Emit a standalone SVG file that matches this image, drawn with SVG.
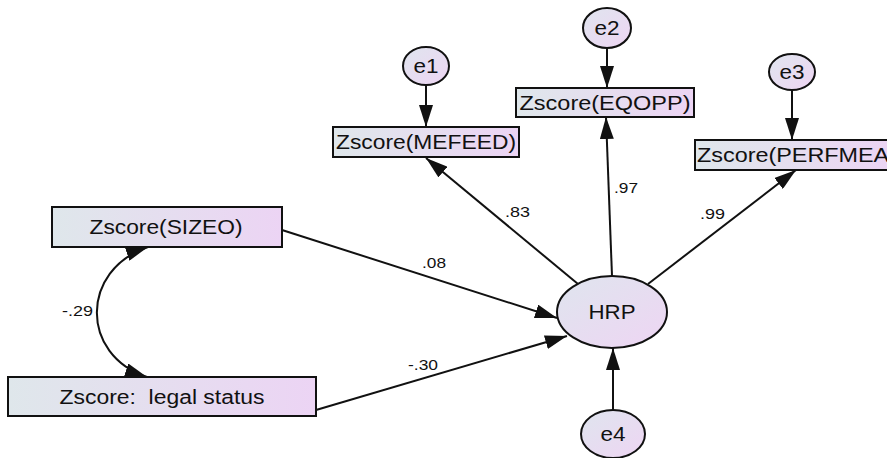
<svg xmlns="http://www.w3.org/2000/svg" width="887" height="458" viewBox="0 0 887 458">
<style>
.box{fill:url(#gb);stroke:#111;stroke-width:2}
.ell{fill:url(#ge);stroke:#111;stroke-width:2}
.t{font-family:"Liberation Sans",Arial,sans-serif;font-size:20px;fill:#111;text-anchor:middle}
.lb{font-family:"Liberation Sans",Arial,sans-serif;font-size:15px;fill:#111}
.c{fill:none;stroke:#111;stroke-width:2}
</style>
<defs>
<linearGradient id="gb" x1="0" y1="0" x2="1" y2="0">
<stop offset="0" stop-color="#dfe7eb"/>
<stop offset="1" stop-color="#ecd4f4"/>
</linearGradient>
<linearGradient id="ge" x1="0" y1="0" x2="1" y2="1">
<stop offset="0" stop-color="#dfe5ee"/>
<stop offset="1" stop-color="#eed5f3"/>
</linearGradient>
<marker id="ah" viewBox="0 0 22 14" refX="22" refY="7" markerWidth="22" markerHeight="14" orient="auto-start-reverse" markerUnits="userSpaceOnUse">
<path d="M0,0 L22,7 L0,14 Z" fill="#111"/>
</marker>
</defs>

<g id="connectors">
<line class="c" x1="426" y1="85" x2="426" y2="127" marker-end="url(#ah)"/>
<line class="c" x1="607" y1="48" x2="607" y2="88" marker-end="url(#ah)"/>
<line class="c" x1="792" y1="90" x2="792" y2="140" marker-end="url(#ah)"/>
<line class="c" x1="578" y1="284" x2="426" y2="158" marker-end="url(#ah)"/>
<line class="c" x1="612" y1="276" x2="606" y2="117" marker-end="url(#ah)"/>
<line class="c" x1="648" y1="284" x2="796" y2="170" marker-end="url(#ah)"/>
<line class="c" x1="282" y1="230" x2="557" y2="318" marker-end="url(#ah)"/>
<line class="c" x1="316" y1="410" x2="567" y2="336" marker-end="url(#ah)"/>
<line class="c" x1="613" y1="410" x2="613" y2="348" marker-end="url(#ah)"/>
<path class="c" d="M148,247 C80,270 80,355 147,377" marker-start="url(#ah)" marker-end="url(#ah)"/>
<text class="lb" x="505" y="217" textLength="25" lengthAdjust="spacingAndGlyphs">.83</text>
<text class="lb" x="614" y="193" textLength="24" lengthAdjust="spacingAndGlyphs">.97</text>
<text class="lb" x="700" y="219" textLength="25" lengthAdjust="spacingAndGlyphs">.99</text>
<text class="lb" x="422" y="268" textLength="24" lengthAdjust="spacingAndGlyphs">.08</text>
<text class="lb" x="408" y="370" textLength="30" lengthAdjust="spacingAndGlyphs">-.30</text>
<text class="lb" x="62" y="316" textLength="31" lengthAdjust="spacingAndGlyphs">-.29</text>
</g>

<g id="e1">
<ellipse class="ell" cx="426" cy="66" rx="23" ry="19"/>
<text class="t" x="426" y="73" textLength="25" lengthAdjust="spacingAndGlyphs">e1</text>
</g>
<g id="e2">
<ellipse class="ell" cx="607" cy="28" rx="24" ry="20"/>
<text class="t" x="607" y="35" textLength="25" lengthAdjust="spacingAndGlyphs">e2</text>
</g>
<g id="e3">
<ellipse class="ell" cx="792" cy="72" rx="23" ry="18"/>
<text class="t" x="792" y="79" textLength="25" lengthAdjust="spacingAndGlyphs">e3</text>
</g>
<g id="e4">
<ellipse class="ell" cx="613" cy="434" rx="32" ry="24"/>
<text class="t" x="613" y="441" textLength="25" lengthAdjust="spacingAndGlyphs">e4</text>
</g>
<g id="HRP">
<ellipse class="ell" cx="612" cy="312" rx="55" ry="36"/>
<text class="t" x="612" y="319" textLength="47" lengthAdjust="spacingAndGlyphs">HRP</text>
</g>
<g id="MEFEED">
<rect class="box" x="333" y="127" width="186" height="30"/>
<text class="t" x="426" y="149" textLength="180" lengthAdjust="spacingAndGlyphs">Zscore(MEFEED)</text>
</g>
<g id="EQOPP">
<rect class="box" x="516" y="88" width="178" height="29"/>
<text class="t" x="605" y="110" textLength="171" lengthAdjust="spacingAndGlyphs">Zscore(EQOPP)</text>
</g>
<g id="PERFMEA">
<rect class="box" x="695" y="140" width="200" height="30"/>
<text class="t" x="797" y="162" textLength="200" lengthAdjust="spacingAndGlyphs">Zscore(PERFMEA)</text>
</g>
<g id="SIZEO">
<rect class="box" x="52" y="207" width="230" height="40"/>
<text class="t" x="166" y="234" textLength="153" lengthAdjust="spacingAndGlyphs">Zscore(SIZEO)</text>
</g>
<g id="legal">
<rect class="box" x="8" y="377" width="308" height="39"/>
<text class="t" x="162" y="404" textLength="205" lengthAdjust="spacingAndGlyphs" xml:space="preserve">Zscore:  legal status</text>
</g>
</svg>
